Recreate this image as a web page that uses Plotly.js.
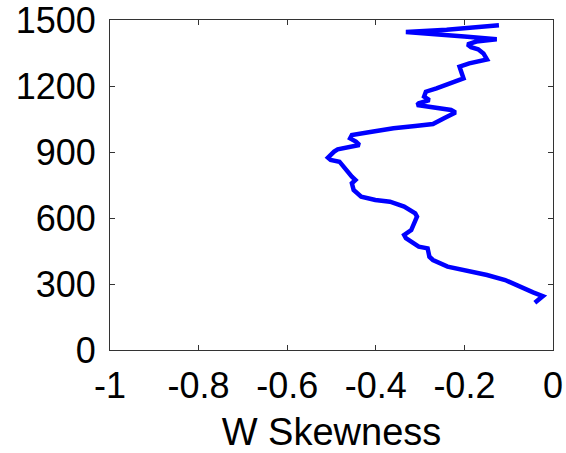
<!DOCTYPE html>
<html>
<head>
<meta charset="utf-8">
<script src="https://cdn.plot.ly/plotly-3.0.1.min.js"></script>
<style>html,body{margin:0;padding:0;background:#fff;}#chart{width:566px;height:453px;}</style>
</head>
<body>
<div id="chart"></div>
<script>
// W skewness profile (x) versus height (y), traced bottom to top
const skewness = [-0.041, -0.023, -0.045, -0.076, -0.108, -0.149, -0.198, -0.238, -0.271, -0.279, -0.283, -0.303,
  -0.332, -0.336, -0.320, -0.307, -0.311, -0.336, -0.368, -0.401, -0.433, -0.450, -0.454, -0.446, -0.454,
  -0.474, -0.482, -0.502, -0.508, -0.494, -0.486, -0.437, -0.445, -0.458, -0.454, -0.409, -0.360, -0.311,
  -0.271, -0.246, -0.220, -0.230, -0.271, -0.295, -0.307, -0.303, -0.279, -0.291, -0.287, -0.263, -0.230,
  -0.202, -0.206, -0.211, -0.189, -0.149, -0.157, -0.169, -0.185, -0.193, -0.173, -0.127, -0.200, -0.260,
  -0.332, -0.240, -0.175, -0.122];
const height = [215, 245, 262, 291, 318, 341, 361, 379, 409, 424, 462, 470,
  508, 523, 545, 606, 621, 652, 674, 682, 697, 727, 758, 773, 788,
  833, 856, 864, 874, 902, 912, 932, 947, 962, 977, 992, 1008, 1018,
  1027, 1053, 1080, 1091, 1103, 1106, 1114, 1121, 1136, 1152, 1174, 1189, 1215,
  1235, 1258, 1288, 1303, 1321, 1348, 1367, 1376, 1389, 1402, 1412, 1425, 1434,
  1445, 1456, 1465, 1476];
const xTickVals = [-1, -0.8, -0.6, -0.4, -0.2, 0];
const xTickText = ['-1', '-0.8', '-0.6', '-0.4', '-0.2', '0'];
const yTickVals = [0, 300, 600, 900, 1200, 1500];
const yTickText = ['0', '300', '600', '900', '1200', '1500'];
const xTitle = 'W Skewness';

const trace = {
  x: skewness, y: height, type: 'scatter', mode: 'lines',
  line: {color: '#0000ff', width: 4.5}, hoverinfo: 'none'
};
const axisCommon = {
  showgrid: false, zeroline: false, showline: true, linecolor: '#333', linewidth: 1,
  mirror: 'ticks', ticks: 'inside', ticklen: 5, tickcolor: '#333', tickwidth: 1,
  ticklabeloverflow: 'allow',
  tickfont: {family: 'Liberation Sans, Arial, sans-serif', size: 36, color: '#000'}
};
const layout = {
  width: 566, height: 453,
  margin: {l: 110, r: 13, t: 20, b: 103},
  paper_bgcolor: '#fff', plot_bgcolor: '#fff', showlegend: false,
  xaxis: Object.assign({}, axisCommon, {
    range: [-1, 0], tickmode: 'array', tickvals: xTickVals, ticktext: xTickText,
    ticklabelstandoff: 4,
    title: {text: xTitle, font: {family: 'Liberation Sans, Arial, sans-serif', size: 38, color: '#000'}, standoff: 13}
  }),
  yaxis: Object.assign({}, axisCommon, {
    range: [0, 1500], tickmode: 'array', tickvals: yTickVals, ticktext: yTickText,
    ticklabelstandoff: 6
  })
};
Plotly.newPlot('chart', [trace], layout, {staticPlot: true, displayModeBar: false});
</script>
</body>
</html>
